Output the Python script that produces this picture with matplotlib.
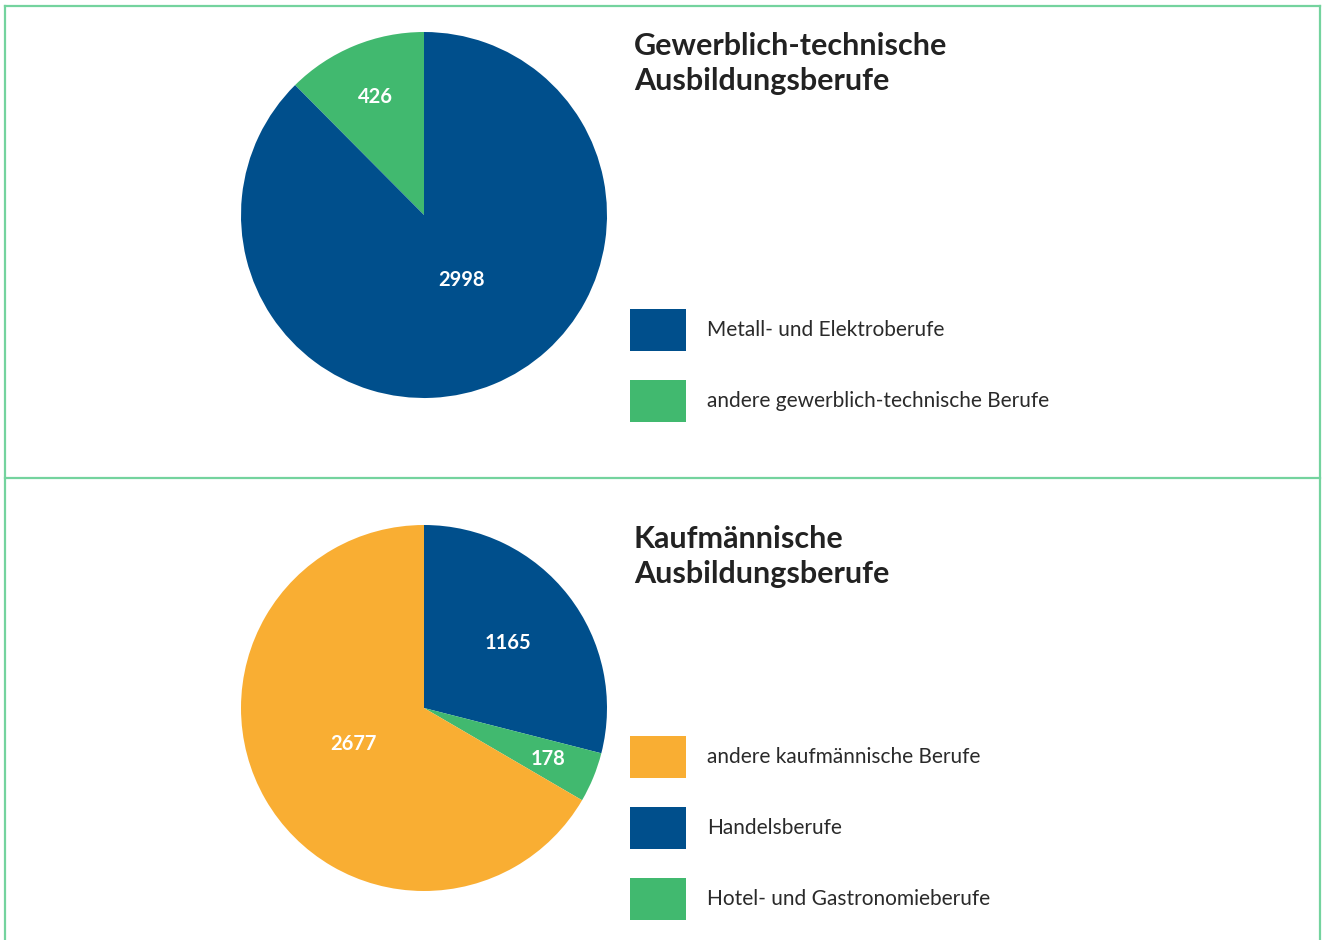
import numpy as np
import matplotlib.pyplot as plt
from matplotlib.lines import Line2D
from matplotlib.patches import Patch

plt.rcParams['font.family'] = ['Lato', 'DejaVu Sans']

# ----------------------------
# Data
# ----------------------------
title_top = "Gewerblich-technische\nAusbildungsberufe"
labels_top = ["andere gewerblich-technische Berufe", "Metall- und Elektroberufe"]
values_top = [426, 2998]

title_bottom = "Kaufmännische\nAusbildungsberufe"
labels_bottom = ["Handelsberufe", "Hotel- und Gastronomieberufe", "andere kaufmännische Berufe"]
values_bottom = [1165, 178, 2677]

BLUE = "#004f8c"
GREEN = "#41b96f"
ORANGE = "#f9ae33"
BORDER = "#74d39e"
TEXT = "#222222"

colors_top = [GREEN, BLUE]
colors_bottom = [BLUE, GREEN, ORANGE]

# ----------------------------
# Figure
# ----------------------------
W, H = 1323, 940
fig = plt.figure(figsize=(W / 100, H / 100), dpi=100)

def px(x, y):
    return x / W, 1 - y / H

# frame lines
bg = fig.add_axes([0, 0, 1, 1])
bg.set_axis_off()
bg.set_xlim(0, W)
bg.set_ylim(H, 0)
for xs, ys in [([5, 1320], [6, 6]), ([5, 5], [6, H]), ([1320, 1320], [6, H]), ([5, 1320], [478, 478])]:
    bg.add_line(Line2D(xs, ys, color=BORDER, lw=1.6))


def draw_panel(cx, cy, r, values, colors, counterclock, label_r, label_da, title, title_y,
               legend_labels, legend_order, legend_top):
    ax = fig.add_axes([(cx - r) / W, (H - cy - r) / H, 2 * r / W, 2 * r / H])
    wedges, _ = ax.pie(values, colors=colors, startangle=90, counterclock=counterclock,
                       wedgeprops=dict(linewidth=0))
    ax.set_xlim(-1, 1)
    ax.set_ylim(-1, 1)
    ax.set_aspect("equal")
    for w, v, lr, da in zip(wedges, values, label_r, label_da):
        ang = np.deg2rad((w.theta1 + w.theta2) / 2 + da)
        ax.text(lr * np.cos(ang), lr * np.sin(ang), str(v), color="white",
                fontsize=14.5, fontweight="bold", ha="center", va="center")

    tx, ty = px(634, title_y)
    fig.text(tx, ty, title, fontsize=22, fontweight="bold", color=TEXT,
             ha="left", va="top", linespacing=1.32)

    handles = [Patch(facecolor=colors[i], edgecolor="none") for i in legend_order]
    names = [legend_labels[i] for i in legend_order]
    lx, ly = px(630, legend_top)
    fig.legend(handles, names, loc="upper left", bbox_to_anchor=(lx, ly),
               frameon=False, fontsize=15, borderpad=0, borderaxespad=0,
               handlelength=2.69, handleheight=2.73, handletextpad=1.0,
               labelspacing=1.39, labelcolor="#2a2a2a")


draw_panel(424, 215, 183, values_top, colors_top, True, [0.70, 0.41], [0, 8],
           title_top, 32, labels_top, [1, 0], 309)
draw_panel(424, 708, 183, values_bottom, colors_bottom, False, [0.58, 0.73, 0.43], [0, 0, -3],
           title_bottom, 525, labels_bottom, [2, 0, 1], 736)

fig.savefig("out.png", dpi=100)
